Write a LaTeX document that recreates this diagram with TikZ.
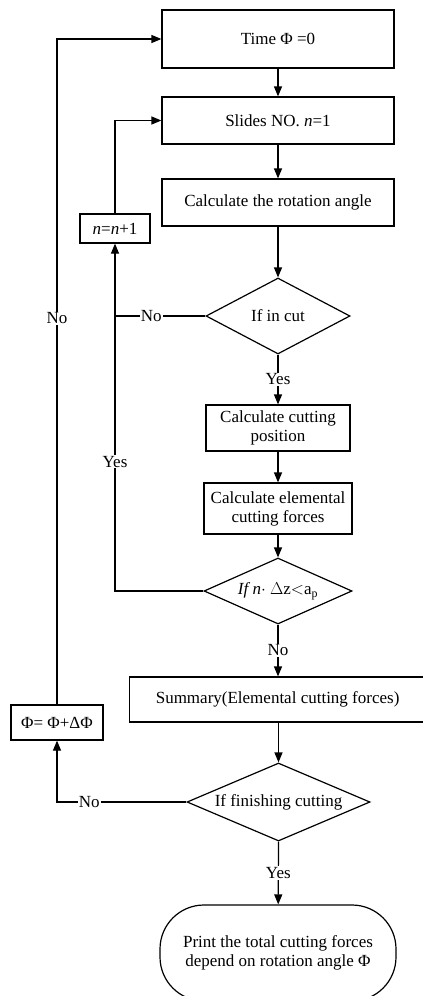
\documentclass[tikz,border=0pt]{standalone}
\usepackage{fontspec}
\setmainfont{Liberation Serif}
\usetikzlibrary{shapes.geometric,arrows.meta}

\begin{document}
\begin{tikzpicture}[x=1pt,y=-1pt,line width=1.2pt,
  font=\fontsize{17}{19}\selectfont,
  box/.style={draw,rectangle,inner sep=2pt,align=center},
  decide/.style={draw,diamond,aspect=2.3,inner sep=0pt},
  term/.style={draw,rectangle,rounded corners=44pt,align=center},
  flow/.style={-{Triangle[length=10pt,width=8pt]}},
  lab/.style={fill=white,inner sep=1pt}]
  \useasboundingbox (0,0) rectangle (423,996);
  % main column
  \node[box,minimum width=232pt,minimum height=58pt] (time) at (278,39) {Time Φ =0};
  \node[box,minimum width=232pt,minimum height=47pt] (slides) at (278,120.5) {Slides NO. \textit{n}=1};
  \node[box,minimum width=232pt,minimum height=47pt] (rot) at (278,202.5) {Calculate the rotation angle};
  \node[decide,minimum width=144pt,minimum height=76pt] (cut) at (278,316) {If in cut};
  \node[box,minimum width=144pt,minimum height=46pt] (pos) at (278,428) {Calculate cutting\\position};
  \node[box,minimum width=148pt,minimum height=51pt] (elem) at (278,508.5) {Calculate elemental\\cutting forces};
  \node[decide,minimum width=148pt,minimum height=66pt] (depth) at (278,591) {\textit{If n}$\cdot$ $\Delta$z$<$a$_\mathrm{p}$};
  % right side of this box runs off the page
  \node[box,anchor=west,minimum width=314pt,minimum height=45pt] (summ) at (129,699.5) {Summary(Elemental cutting forces)\hspace*{18pt}};
  \node[decide,minimum width=183pt,minimum height=78pt] (fin) at (278.5,802) {If finishing cutting};
  \node[term,minimum width=236pt,minimum height=96pt] (print) at (278,953) {Print the total cutting forces\\depend on rotation angle Φ};
  % loop boxes
  \node[box,minimum width=70pt,minimum height=29pt] (incr) at (115,228.5) {\textit{n}=\textit{n}+1};
  \node[box,minimum width=92pt,minimum height=35pt] (phistep) at (57,722.5) {Φ= Φ+ΔΦ};

  \draw[flow] (time) -- (slides);
  \draw[flow] (slides) -- (rot);
  \draw[flow] (rot) -- (cut);
  \draw[flow] (cut.south) -- node[lab]{Yes} (pos);
  \draw[flow] (pos) -- (elem);
  \draw[flow] (elem) -- (depth);
  \draw[flow] (depth.south) -- node[lab]{No} (depth.south |- summ.north);
  \draw[flow] (summ.south -| fin) -- (fin);
  \draw[flow] (fin.south) -- node[lab]{Yes} (print);

  \draw[flow] (cut.west) -- node[lab,pos=0.6]{No} (cut.west -| incr) -- (incr.south);
  \draw (depth.west) -- (depth.west -| incr) -- node[lab,pos=0.47]{Yes} (cut.west -| incr);
  \draw[flow] (incr.north) -- (incr |- slides) -- (slides.west);

  \draw[flow] (fin.west) -- node[lab,pos=0.75]{No} (fin.west -| phistep) -- (phistep.south);
  \draw[flow] (phistep.north) -- node[lab,pos=0.58]{No} (phistep |- time) -- (time.west);
\end{tikzpicture}
\end{document}
